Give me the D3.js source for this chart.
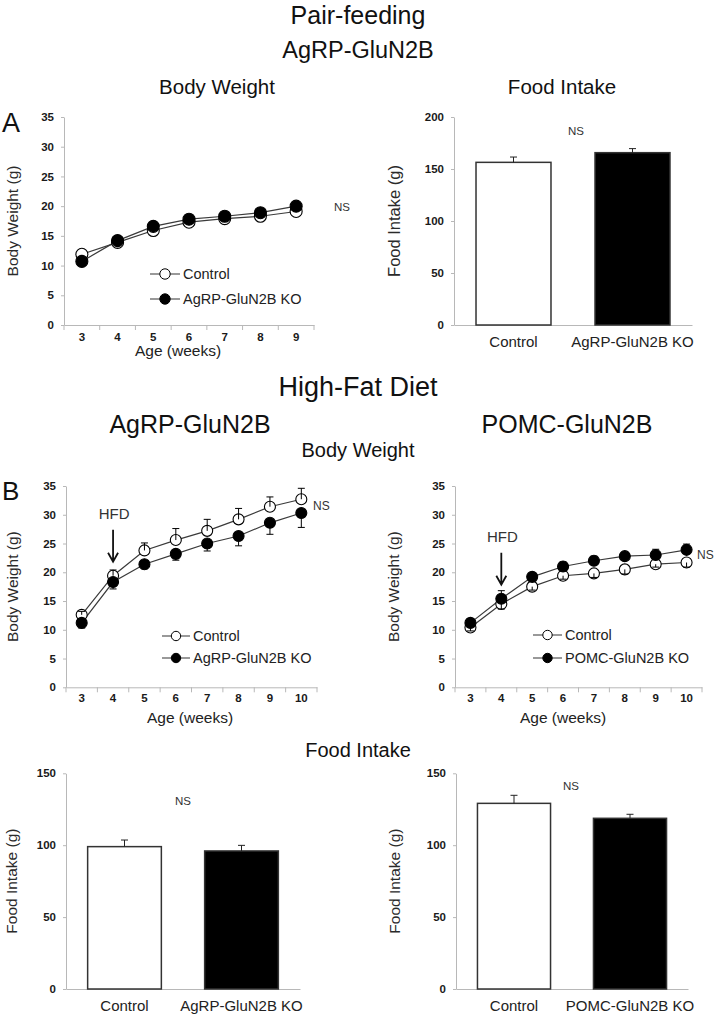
<!DOCTYPE html>
<html>
<head>
<meta charset="utf-8">
<script src="https://cdn.jsdelivr.net/npm/d3@7"></script>
<style>
  html, body { margin: 0; padding: 0; background: #fff; }
  svg { display: block; font-family: "Liberation Sans", Arial, Helvetica, sans-serif; }
</style>
</head>
<body>
<svg id="chart" width="716" height="1017"></svg>
<script>
// ---------------- DATA ----------------
const weeksPF = [3, 4, 5, 6, 7, 8, 9];
const pfControlBW = [11.9, 13.9, 15.9, 17.3, 17.9, 18.3, 19.1];
const pfKoBW = [10.7, 14.2, 16.6, 17.8, 18.3, 18.9, 20.0];

const pfFoodCats = ["Control", "AgRP-GluN2B KO"];
const pfFoodMean = [156.4, 165.7];
const pfFoodErr = [5.1, 3.9];

const weeksHFD = [3, 4, 5, 6, 7, 8, 9, 10];
const agrpControlBW = [12.6, 19.4, 23.8, 25.6, 27.2, 29.2, 31.4, 32.7];
const agrpControlErr = [0.6, 1.0, 1.3, 2.0, 2.0, 1.9, 1.7, 1.9];
const agrpKoBW = [11.2, 18.3, 21.4, 23.2, 25.0, 26.3, 28.6, 30.3];
const agrpKoErr = [0.9, 1.2, 0.8, 1.1, 1.3, 1.7, 2.0, 2.5];

const pomcControlBW = [10.4, 14.5, 17.5, 19.4, 19.8, 20.5, 21.4, 21.7];
const pomcControlErr = [0.6, 0.9, 0.6, 0.6, 0.7, 0.8, 0.5, 0.8];
const pomcKoBW = [11.2, 15.4, 19.2, 21.0, 22.0, 22.8, 23.0, 23.9];
const pomcKoErr = [0.7, 1.4, 0.6, 0.8, 0.8, 0.7, 1.0, 1.0];

const agrpFoodCats = ["Control", "AgRP-GluN2B KO"];
const agrpFoodMean = [99.0, 96.0];
const agrpFoodErr = [4.6, 3.9];

const pomcFoodCats = ["Control", "POMC-GluN2B KO"];
const pomcFoodMean = [129.1, 118.7];
const pomcFoodErr = [5.6, 2.8];

const bwTicks = [0, 5, 10, 15, 20, 25, 30, 35];
const pfFoodTicks = [0, 50, 100, 150, 200];
const hfdFoodTicks = [0, 50, 100, 150];

// ---------------- DRAWING ----------------
const svg = d3.select("#chart");
const AXIS = "#b8b8b8";
const FONT = "\"Liberation Sans\", Arial, sans-serif";

function text(x, y, str, size, opts = {}) {
  return svg.append("text")
    .attr("x", x).attr("y", y)
    .attr("font-size", size)
    .attr("font-weight", opts.weight || "normal")
    .attr("fill", opts.fill || "#111")
    .attr("text-anchor", opts.anchor || "middle")
    .text(str);
}
function vtext(x, y, str, size) {
  svg.append("text")
    .attr("transform", `translate(${x},${y}) rotate(-90)`)
    .attr("font-size", size)
    .attr("fill", "#2a2a2a")
    .attr("text-anchor", "middle")
    .text(str);
}

function styleAxis(g, fontSize) {
  g.select(".domain").attr("stroke", AXIS).attr("stroke-width", 1);
  g.selectAll(".tick line").attr("stroke", AXIS);
  g.selectAll(".tick text").attr("fill", "#1a1a1a").attr("font-size", fontSize)
    .attr("font-family", FONT).attr("font-weight", "bold");
}

function linePanel(cfg) {
  const x = d3.scaleBand().domain(cfg.weeks).range([cfg.x0, cfg.x1]);
  const y = d3.scaleLinear().domain([0, 35]).range([cfg.yb, cfg.yt]);
  const cx = w => x(w) + x.bandwidth() / 2;

  const gy = svg.append("g").attr("transform", `translate(${cfg.x0},0)`)
    .call(d3.axisLeft(y).tickValues(bwTicks).tickSize(3).tickSizeOuter(0).tickPadding(7));
  styleAxis(gy, 11.5);

  const gx = svg.append("g").attr("transform", `translate(0,${cfg.yb})`)
    .call(d3.axisBottom(x).tickSize(0).tickPadding(cfg.xPad));
  styleAxis(gx, 11.5);
  const bounds = cfg.weeks.map(w => x(w)).concat([x.range()[1]]);
  svg.append("g").selectAll("line").data(bounds).join("line")
    .attr("x1", d => d).attr("x2", d => d)
    .attr("y1", cfg.yb).attr("y2", cfg.yb + 5)
    .attr("stroke", AXIS);

  const line = d3.line().x((d, i) => cx(cfg.weeks[i])).y(d => y(d));
  cfg.series.forEach(s => {
    svg.append("path").datum(s.values).attr("d", line)
      .attr("fill", "none").attr("stroke", "#3a3a3a").attr("stroke-width", 1.2);
  });
  cfg.series.forEach(s => {
    svg.append("g").selectAll("circle").data(s.values).join("circle")
      .attr("cx", (d, i) => cx(cfg.weeks[i])).attr("cy", d => y(d))
      .attr("r", cfg.r)
      .attr("fill", s.filled ? "#000" : "#fff")
      .attr("stroke", "#000").attr("stroke-width", 1.1);
  });
  cfg.series.forEach(s => {
    if (!s.err) return;
    const g = svg.append("g");
    s.values.forEach((v, i) => {
      const xc = cx(cfg.weeks[i]);
      const yEnd = y(v + s.dir * s.err[i]);
      g.append("line").attr("x1", xc).attr("x2", xc).attr("y1", y(v)).attr("y2", yEnd)
        .attr("stroke", "#000").attr("stroke-width", 1);
      g.append("line").attr("x1", xc - 3.5).attr("x2", xc + 3.5).attr("y1", yEnd).attr("y2", yEnd)
        .attr("stroke", "#000").attr("stroke-width", 1);
    });
  });

  cfg.series.forEach((s, i) => {
    const ly = cfg.legend.y[i];
    svg.append("line").attr("x1", cfg.legend.x).attr("x2", cfg.legend.x + cfg.legend.len)
      .attr("y1", ly).attr("y2", ly).attr("stroke", "#555").attr("stroke-width", 1.2);
    svg.append("circle").attr("cx", cfg.legend.x + cfg.legend.len / 2).attr("cy", ly).attr("r", cfg.r - 0.8)
      .attr("fill", s.filled ? "#000" : "#fff").attr("stroke", "#000").attr("stroke-width", 1);
    text(cfg.legend.x + cfg.legend.len + 3, ly + 5, s.name, 14.5, { anchor: "start", fill: "#222" });
  });

  vtext(cfg.yTitleX, (cfg.yt + cfg.yb) / 2, "Body Weight (g)", 15.5);
  text(cfg.xTitleX, cfg.xTitleY, "Age (weeks)", 15.5, { fill: "#222" });
  text(cfg.ns[0], cfg.ns[1], "NS", cfg.ns[2], { anchor: "start", fill: "#333" });

  if (cfg.hfd) {
    const xc = cx(cfg.hfd.week);
    const top = cfg.series.map(s => s.values[cfg.weeks.indexOf(cfg.hfd.week)]);
    const tip = y(d3.max(top)) - 14;
    const tail = tip - 32;
    svg.append("path")
      .attr("d", `M${xc},${tail} L${xc},${tip} M${xc - 5},${tip - 9} L${xc},${tip} L${xc + 5},${tip - 9}`)
      .attr("fill", "none").attr("stroke", "#111").attr("stroke-width", 1.8);
    text(xc + 1, tail - 11, "HFD", 15, { fill: "#333" });
  }
  return { x, y };
}

function barPanel(cfg) {
  const x = d3.scaleBand().domain(cfg.cats).range([cfg.x0, cfg.x1]).paddingInner(0.37).paddingOuter(0.185);
  const y = d3.scaleLinear().domain([0, cfg.max]).range([cfg.yb, cfg.yt]);

  const gy = svg.append("g").attr("transform", `translate(${cfg.x0},0)`)
    .call(d3.axisLeft(y).tickValues(cfg.ticks).tickSize(3).tickSizeOuter(0).tickPadding(7));
  styleAxis(gy, 11.5);
  const gx = svg.append("g").attr("transform", `translate(0,${cfg.yb})`)
    .call(d3.axisBottom(x).tickSize(0).tickPadding(11).tickSizeOuter(0));
  styleAxis(gx, 15);
  gx.selectAll(".tick text").attr("font-weight", "normal").attr("fill", "#222");

  svg.append("g").selectAll("rect").data(cfg.means).join("rect")
    .attr("x", (d, i) => x(cfg.cats[i])).attr("width", x.bandwidth())
    .attr("y", d => y(d)).attr("height", d => cfg.yb - y(d))
    .attr("fill", (d, i) => i === 0 ? "#fff" : "#000")
    .attr("stroke", "#333").attr("stroke-width", 1.5);

  cfg.means.forEach((m, i) => {
    const xc = x(cfg.cats[i]) + x.bandwidth() / 2;
    const yEnd = y(m + cfg.errs[i]);
    svg.append("line").attr("x1", xc).attr("x2", xc).attr("y1", y(m)).attr("y2", yEnd)
      .attr("stroke", "#222").attr("stroke-width", 1);
    svg.append("line").attr("x1", xc - 3.5).attr("x2", xc + 3.5).attr("y1", yEnd).attr("y2", yEnd)
      .attr("stroke", "#222").attr("stroke-width", 1);
  });

  vtext(cfg.yTitleX, (cfg.yt + cfg.yb) / 2, "Food Intake (g)", cfg.yTitleSize);
  text(cfg.ns[0], cfg.ns[1], "NS", 11.5, { fill: "#333" });
}

// ---------------- TITLES ----------------
text(358, 24, "Pair-feeding", 25);
text(358, 58, "AgRP-GluN2B", 23.5);
text(217, 94, "Body Weight", 20.5);
text(562, 94, "Food Intake", 20.5);
text(2, 132, "A", 27, { anchor: "start" });

text(358, 396, "High-Fat Diet", 27);
text(190, 433, "AgRP-GluN2B", 25);
text(567, 433, "POMC-GluN2B", 25);
text(358, 457, "Body Weight", 20);
text(2, 500, "B", 26, { anchor: "start" });
text(358, 757, "Food Intake", 20);

// ---------------- PANELS ----------------
linePanel({
  weeks: weeksPF, x0: 64, x1: 314, yt: 117, yb: 325, r: 6, xPad: 8,
  series: [
    { name: "Control", values: pfControlBW, filled: false },
    { name: "AgRP-GluN2B KO", values: pfKoBW, filled: true }
  ],
  legend: { x: 150, len: 30, y: [274, 299] },
  yTitleX: 18, xTitleX: 178, xTitleY: 356, ns: [334, 211, 11.5]
});

barPanel({
  cats: pfFoodCats, means: pfFoodMean, errs: pfFoodErr, max: 200, ticks: pfFoodTicks,
  x0: 454, x1: 692, yt: 117, yb: 325, yTitleX: 400, yTitleSize: 16.5, ns: [576, 135]
});

linePanel({
  weeks: weeksHFD, x0: 66, x1: 317, yt: 486, yb: 687.3, r: 5.5, xPad: 7,
  series: [
    { name: "Control", values: agrpControlBW, err: agrpControlErr, dir: 1, filled: false },
    { name: "AgRP-GluN2B KO", values: agrpKoBW, err: agrpKoErr, dir: -1, filled: true }
  ],
  legend: { x: 162, len: 28, y: [636, 658] },
  yTitleX: 18, xTitleX: 190, xTitleY: 723, ns: [313, 510, 12],
  hfd: { week: 4 }
});

linePanel({
  weeks: weeksHFD, x0: 455, x1: 702, yt: 486, yb: 687.3, r: 5.5, xPad: 7,
  series: [
    { name: "Control", values: pomcControlBW, err: pomcControlErr, dir: -1, filled: false },
    { name: "POMC-GluN2B KO", values: pomcKoBW, err: pomcKoErr, dir: 1, filled: true }
  ],
  legend: { x: 533, len: 29, y: [635, 658] },
  yTitleX: 399, xTitleX: 563, xTitleY: 723, ns: [697, 559, 12],
  hfd: { week: 4 }
});

barPanel({
  cats: agrpFoodCats, means: agrpFoodMean, errs: agrpFoodErr, max: 150, ticks: hfdFoodTicks,
  x0: 66, x1: 300, yt: 773.3, yb: 989, yTitleX: 17, yTitleSize: 15.5, ns: [183, 805]
});

barPanel({
  cats: pomcFoodCats, means: pomcFoodMean, errs: pomcFoodErr, max: 150, ticks: hfdFoodTicks,
  x0: 456, x1: 688, yt: 773.3, yb: 989, yTitleX: 400, yTitleSize: 15.5, ns: [571, 790]
});
</script>
</body>
</html>
